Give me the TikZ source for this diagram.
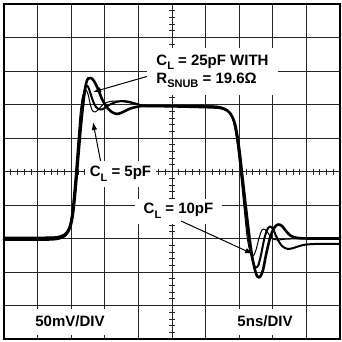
\documentclass[tikz,border=0pt]{standalone}
\usepackage{fontspec}
\setmainfont{Liberation Sans}
\usetikzlibrary{arrows.meta}
\newcommand\lsub[1]{\raisebox{-4.5pt}{\fontsize{11}{11}\selectfont #1}}
\begin{document}
\begin{tikzpicture}[x=1pt,y=-1pt,
  gridline/.style={line width=0.8pt, black!85},
  tickline/.style={line width=0.7pt, black!85},
  frameline/.style={line width=2pt, black},
  trace/.style={line width=#1, black, line join=round, line cap=round},
  lbl/.style={font=\fontsize{15}{18}\selectfont\bfseries, fill=white, inner sep=0pt, align=left},
  callout/.style={line width=1pt, black, -{Latex[length=8pt,width=5.5pt]}}]
\useasboundingbox (0,0) rectangle (342,342);
\fill[white] (0,0) rectangle (342,342);
% grid
\foreach \i in {1,...,9} {
  \draw[gridline] ({4+33.6*\i},4) -- ({4+33.6*\i},339);
  \draw[gridline] (4,{4+33.5*\i}) -- (340,{4+33.5*\i});
}
% minor ticks on centre axes
\foreach \k in {1,...,49} {
  \draw[tickline] ({4+6.72*\k},168.5) -- ({4+6.72*\k},174.5);
  \draw[tickline] (169,{4+6.7*\k}) -- (175,{4+6.7*\k});
}
% label boxes
\node[lbl, minimum width=131pt, minimum height=47pt] (l25) at (212.5,71.5)
  {C\lsub{L} = 25pF WITH\\R\lsub{SNUB} = 19.6Ω};
\node[lbl, minimum width=71pt, minimum height=26pt] (l5) at (120.5,174) {C\lsub{L} = 5pF};
\node[lbl, minimum width=87pt, minimum height=25pt] (l10) at (178.5,211) {C\lsub{L} = 10pF};
\node[lbl, minimum width=92pt, minimum height=26pt] (lv) at (70,321.5) {50mV/DIV};
\node[lbl, minimum width=74pt, minimum height=26pt] (lt) at (265,321.5) {5ns/DIV};
% frame
\draw[frameline] (4,4) rectangle (340,339);
% traces
\draw[trace=2.6pt] plot[smooth, tension=0.5] coordinates {
 (4,239.5) (45,239.5) (56,239) (63,237) (68,232) (72,220) (75,195) (78,160) (81,125) (84,97) (86,84) (88,78.5) (91,78) (94,81) (98,89) (102,99) (106,106) (111,111.5) (117,114) (123,112) (129,109) (136,107) (145,106) (180,106.5) (215,107.5) (224,109) (230,113) (235,124) (239,147) (243,182) (247,217) (251,249) (254,266) (257,276) (260,277) (263,270) (266,255) (270,238) (274,228) (278,224.5) (282,226) (286,231) (291,236) (298,238) (310,238.5) (340,238.5)};
\draw[trace=2pt] plot[smooth, tension=0.5] coordinates {
 (4,238) (45,238) (57,237.5) (64,235.5) (69,229) (73,212) (76,180) (79,140) (82,108) (84,93) (86,86) (88,86.5) (90,92) (93,101) (96,107) (100,109.5) (104,108.5) (109,105) (116,102) (123,101) (130,102) (137,104) (146,106) (180,106) (214,106.5) (223,108) (229,112) (234,122) (238,144) (242,180) (246,216) (249,240) (252,258) (255,267) (258,266) (261,255) (264,240) (267,230) (270,226.5) (273,229) (277,238) (282,246) (288,249) (295,247.5) (303,245) (315,244) (340,244)};
\draw[trace=1pt] plot[smooth, tension=0.5] coordinates {
 (4,237) (45,237) (57,236.5) (64,234) (69,227) (72,210) (75,178) (78,140) (80,115) (82,99) (84,92) (86,90) (88,94) (90,103) (92,110) (95,112) (99,109) (103,104.5) (108,102) (115,101) (125,102) (135,104) (145,105.5) (180,106) (213,106) (222,107.5) (228,111) (233,120) (237,142) (241,177) (244,207) (247,236) (250,252) (253,256) (256,250) (259,238) (262,230) (265,229.5) (268,233) (272,238.5) (278,240) (290,239) (340,239)};
% callouts
\coordinate (t25) at (93,92);
\coordinate (t5) at (93,122);
\coordinate (t10) at (253,254);
\draw[callout] ([yshift=-5pt]l25.west) -- (t25);
\draw[callout] ([xshift=-20pt]l5.north) -- (t5);
\draw[callout] (181,221) -- (t10);
\end{tikzpicture}
\end{document}
